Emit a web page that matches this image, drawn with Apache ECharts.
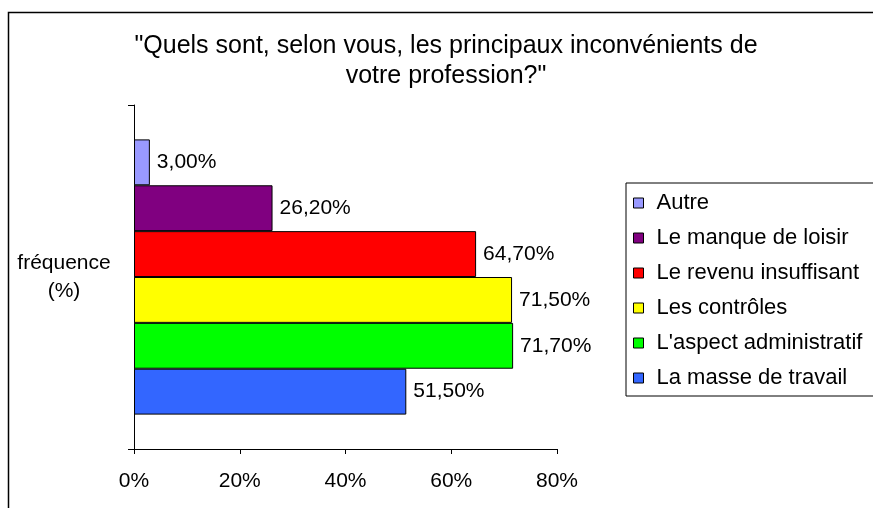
<!DOCTYPE html>
<html lang="fr">
<head>
    <meta charset="UTF-8">
    <title>Inconvénients de la profession</title>
    <script type="text/javascript" src="https://cdn.jsdelivr.net/npm/echarts@6/dist/echarts.min.js"></script>
    <style>
        html, body { margin: 0; padding: 0; background: #fff; }
        #chart { width: 873px; height: 508px; }
    </style>
</head>
<body>
    <div id="chart"></div>
<script>
    // données (ordre : du haut vers le bas)
    var categories = ['']
    var seriesNames = ['Autre', 'Le manque de loisir', 'Le revenu insuffisant', 'Les contrôles', "L'aspect administratif", 'La masse de travail']
    var seriesValues = [3.0, 26.2, 64.7, 71.5, 71.7, 51.5]
    var seriesColors = ['#9999FF', '#800080', '#FF0000', '#FFFF00', '#00FF00', '#3366FF']
    var xTicks = [0, 20, 40, 60, 80]

    var font = 'Liberation Sans, Arial, sans-serif'

    function fmt(v){
        return v.toFixed(2).replace('.', ',') + '%'
    }

    var series = []
    for (var i = 0; i < seriesNames.length; i++) {
        series.push({
            name: seriesNames[i],
            type: 'bar',
            data: [seriesValues[i]],
            barGap: '0%',
            barCategoryGap: '20%',
            itemStyle: { color: seriesColors[i], borderColor: '#000', borderWidth: 1 },
            label: {
                show: true,
                position: 'right',
                distance: 7,
                color: '#000',
                fontFamily: font,
                fontSize: 21,
                formatter: function(p){ return fmt(p.value) }
            }
        })
    }

    var chart = echarts.init(document.getElementById('chart'))
    chart.setOption({
        animation: false,
        backgroundColor: '#fff',
        title: {
            text: '"Quels sont, selon vous, les principaux inconvénients de\nvotre profession?"',
            left: 441,
            top: 26,
            textAlign: 'center',
            textStyle: { color: '#000', fontWeight: 'normal', fontFamily: font, fontSize: 25, lineHeight: 30 }
        },
        graphic: [{
            type: 'rect',
            shape: { x: 8.5, y: 12.5, width: 1000, height: 1000 },
            style: { fill: null, stroke: '#000', lineWidth: 1.5 },
            silent: true
        }],
        legend: {
            orient: 'vertical',
            left: 626,
            top: 183,
            data: seriesNames,
            icon: 'rect',
            itemWidth: 10,
            itemHeight: 10,
            itemGap: 13,
            padding: [9, 20, 7, 7],
            borderColor: '#000',
            borderWidth: 1,
            itemStyle: { borderColor: '#000', borderWidth: 1 },
            textStyle: { color: '#000', fontFamily: font, fontSize: 22, lineHeight: 22, padding: [0, 0, 0, 8] }
        },
        grid: { left: 134, top: 105, right: 316, bottom: 59, containLabel: false },
        xAxis: {
            type: 'value',
            min: xTicks[0],
            max: xTicks[xTicks.length - 1],
            interval: 20,
            axisLine: { show: true, lineStyle: { color: '#000', width: 1 } },
            axisTick: { show: true, length: 5, lineStyle: { color: '#000' } },
            splitLine: { show: false },
            axisLabel: { color: '#000', fontFamily: font, fontSize: 21, margin: 22, formatter: '{value}%' }
        },
        yAxis: {
            type: 'category',
            data: categories,
            name: 'fréquence\n(%)',
            nameLocation: 'middle',
            nameRotate: 0,
            nameGap: 70,
            nameTextStyle: { color: '#000', fontFamily: font, fontSize: 21, lineHeight: 28, align: 'center', verticalAlign: 'middle', padding: [11, 0, 0, 0] },
            axisLine: { show: true, lineStyle: { color: '#000', width: 1 } },
            axisTick: { show: true, length: 6, lineStyle: { color: '#000' } },
            axisLabel: { show: false }
        },
        series: series
    })
</script>
</body>
</html>
